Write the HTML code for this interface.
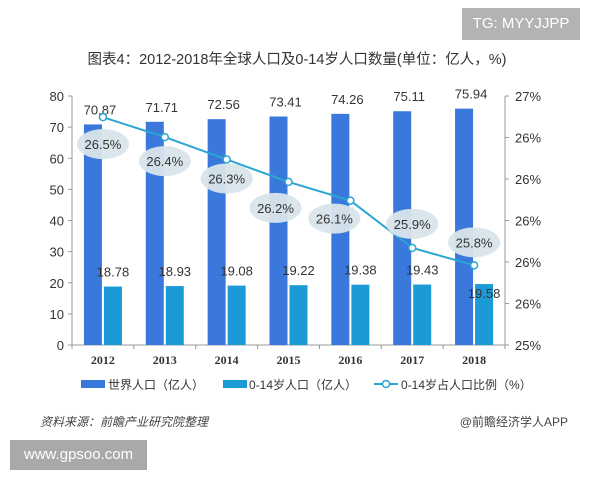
<!DOCTYPE html>
<html><head><meta charset="utf-8"><style>
body{margin:0;background:#fff;width:600px;height:480px;overflow:hidden;font-family:"Liberation Sans","Noto Sans CJK SC",sans-serif}
#tg{position:absolute;left:462px;top:8px;width:118px;height:32px;background:#b3b3b3;color:#fff;font-size:15px;line-height:32px;text-align:center}
#wm{position:absolute;left:10px;top:440px;width:137px;height:30px;background:#a9a9a9;color:#fff;font-size:15px;line-height:30px;text-align:center}
</style></head><body>
<div id="tg">TG: MYYJJPP</div>
<svg id="c" width="600" height="480" style="position:absolute;left:0;top:0"></svg>
<div id="wm">www.gpsoo.com</div>
<script>
const years=["2012","2013","2014","2015","2016","2017","2018"];
const worldPop=[70.87,71.71,72.56,73.41,74.26,75.11,75.94];
const childPop=[18.78,18.93,19.08,19.22,19.38,19.43,19.58];
const ratio=[26.83,26.67,26.49,26.31,26.16,25.78,25.64];
const ratioLabels=["26.5%","26.4%","26.3%","26.2%","26.1%","25.9%","25.8%"];
const leftTicks=[0,10,20,30,40,50,60,70,80];
const rightTickLabels=["25%","26%","26%","26%","26%","26%","27%"];
const NS="http://www.w3.org/2000/svg",svg=document.getElementById('c');
function el(t,a,txt){const e=document.createElementNS(NS,t);for(const k in a)e.setAttribute(k,a[k]);if(txt!==undefined)e.textContent=txt;svg.appendChild(e);return e;}
const X0=72,X1=505,Y0=345,Y1=96;
const yL=v=>Y0-(v/80)*(Y0-Y1);
const yR=v=>Y0-((v-25)/2)*(Y0-Y1);
const step=(X1-X0)/years.length;
const xC=i=>X0+step*(i+0.5);
let t=el('text',{x:297,y:64,'text-anchor':'middle','font-size':14.5,fill:'#333'},'图表4：2012-2018年全球人口及0-14岁人口数量(单位：亿人，%)');

el('line',{x1:X0,y1:Y1,x2:X0,y2:Y0,stroke:'#999'});
el('line',{x1:X0,y1:Y0,x2:X1,y2:Y0,stroke:'#999'});
el('line',{x1:X1,y1:Y1,x2:X1,y2:Y0,stroke:'#999'});
leftTicks.forEach(v=>{el('line',{x1:X0-4,y1:yL(v),x2:X0,y2:yL(v),stroke:'#999'});
 const e=el('text',{x:X0-8,y:yL(v)+5,'text-anchor':'end','font-size':13,fill:'#333'},v);
 });
rightTickLabels.forEach((s,i)=>{const y=Y0-i*(Y0-Y1)/6;el('line',{x1:X1,y1:y,x2:X1+4,y2:y,stroke:'#999'});
 const e=el('text',{x:X1+10,y:y+5,'font-size':13,fill:'#333'},s);
 });
for(let i=0;i<=years.length;i++)el('line',{x1:X0+step*i,y1:Y0,x2:X0+step*i,y2:Y0+4,stroke:'#999'});
years.forEach((yr,i)=>{const cx=xC(i);
 let b=el('rect',{x:cx-19,y:yL(worldPop[i]),width:18,height:Y0-yL(worldPop[i]),fill:'#3b78db'});
 
 let s=el('rect',{x:cx+1,y:yL(childPop[i]),width:18,height:Y0-yL(childPop[i]),fill:'#1b9ad6'});
 
 let l=el('text',{x:cx-3,y:yL(worldPop[i])-10,'text-anchor':'middle','font-size':13,fill:'#333'},worldPop[i].toFixed(2));
 
 let ly=i==6?yL(childPop[i])+14:yL(childPop[i])-10;
 let l2=el('text',{x:cx+10,y:ly,'text-anchor':'middle','font-size':13,fill:'#333'},childPop[i].toFixed(2));
 
 let xl=el('text',{x:cx,y:Y0+19,'text-anchor':'middle','font-size':12,fill:'#333','font-family':'Liberation Serif,serif','font-weight':'bold'},yr);
 });
let pl=el('polyline',{points:ratio.map((v,i)=>xC(i)+','+yR(v)).join(' '),fill:'none',stroke:'#2aa6d0','stroke-width':2});

ratio.forEach((v,i)=>{let c=el('circle',{cx:xC(i),cy:yR(v),r:3.5,fill:'#fff',stroke:'#2aa6d0','stroke-width':1.5});
 });
const offs=[[0,27],[0,24],[0,19],[-13,26],[-16,18],[0,-24],[0,-23]];
ratio.forEach((v,i)=>{const cx=xC(i)+offs[i][0],cy=yR(v)+offs[i][1];
 let e=el('ellipse',{cx:cx,cy:cy,rx:26,ry:15,fill:'#d8e5ea',opacity:0.95});
 
 let tx=el('text',{x:cx,y:cy+5,'text-anchor':'middle','font-size':13,fill:'#333'},ratioLabels[i]);
 });
let g1=el('rect',{x:81,y:380,width:24,height:8,fill:'#3b78db'});
let t1=el('text',{x:108,y:389,'font-size':12,fill:'#333'},'世界人口（亿人）');
let g2=el('rect',{x:223,y:380,width:24,height:8,fill:'#1b9ad6'});
let t2=el('text',{x:249,y:389,'font-size':12,fill:'#333'},'0-14岁人口（亿人）');
el('line',{x1:374,y1:384,x2:398,y2:384,stroke:'#2aa6d0','stroke-width':2});
el('circle',{cx:386,cy:384,r:3.5,fill:'#fff',stroke:'#2aa6d0','stroke-width':1.5});
let t3=el('text',{x:401,y:389,'font-size':12,fill:'#333'},'0-14岁占人口比例（%）');
let s1=el('text',{x:40,y:426,'font-size':12,fill:'#444','font-style':'italic'},'资料来源：前瞻产业研究院整理');
let s2=el('text',{x:568,y:426,'font-size':12,fill:'#444','text-anchor':'end'},'@前瞻经济学人APP');
</script>
</body></html>
